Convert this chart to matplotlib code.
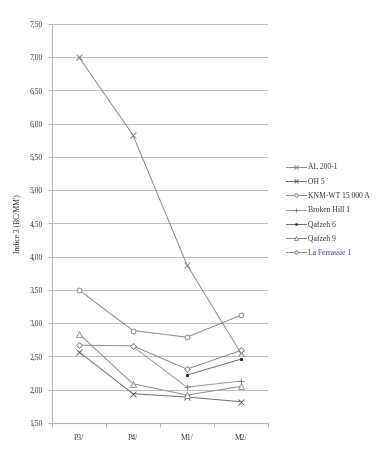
import numpy as np
from matplotlib import pyplot as plt
from matplotlib.ticker import FuncFormatter

plt.rcParams['font.family'] = ['Liberation Serif', 'DejaVu Serif']

# Categories (teeth) and index values per specimen
teeth = ["P3/", "P4/", "M1/", "M2/"]
al_200 = [7.00, 5.83, 3.88, 2.55]
oh_5 = [2.57, 1.94, 1.89, 1.82]
knm_wt = [3.50, 2.89, 2.79, 3.12]
broken_hill = [np.nan, 2.65, 2.04, 2.13]
qafzeh_6 = [np.nan, np.nan, 2.22, 2.46]
qafzeh_9 = [2.84, 2.09, 1.92, 2.05]
la_ferrassie = [2.67, 2.66, 2.31, 2.59]

names = ["AL 200-1", "OH 5", "KNM-WT 15 000 A", "Broken Hill 1",
         "Qafzeh 6", "Qafzeh 9", "La Ferrassie 1"]
series = [al_200, oh_5, knm_wt, broken_hill, qafzeh_6, qafzeh_9, la_ferrassie]

styles = [
    dict(color='#8a8a8a', marker='x', ms=5, mfc='none', mec='#7a7a7a'),
    dict(color='#6e6e6e', marker='x', ms=5, mfc='none', mec='#555555'),
    dict(color='#8a8a8a', marker='o', ms=3.5, mfc='white', mec='#777777'),
    dict(color='#9a9a9a', marker='+', ms=5, mfc='none', mec='#777777'),
    dict(color='#6e6e6e', marker='s', ms=1.5, mfc='#222222', mec='#222222'),
    dict(color='#8a8a8a', marker='^', ms=4, mfc='white', mec='#888888'),
    dict(color='#8a8a8a', marker='D', ms=3, mfc='white', mec='#777777'),
]

fig = plt.figure(figsize=(3.9, 4.5), dpi=100)
ax = fig.add_axes([0.133, 0.06, 0.554, 0.887])

x = np.arange(len(teeth))
lines = []
for vals, name, st in zip(series, names, styles):
    y = np.array(vals, dtype=float)
    m = ~np.isnan(y)
    ln, = ax.plot(x[m], y[m], lw=0.7, mew=0.6, label=name, **st)
    lines.append(ln)

ax.set_xlim(-0.5, len(teeth) - 0.5)
ax.set_ylim(1.5, 7.5)
ax.set_yticks(np.arange(1.5, 7.51, 0.5))
ax.yaxis.set_major_formatter(FuncFormatter(lambda v, p: f"{v:.2f}".replace('.', ',')))
ax.set_xticks(x)
ax.set_xticklabels(teeth)
ax.set_xticks(np.arange(-0.5, len(teeth), 1.0), minor=True)
ax.tick_params(axis='x', which='major', length=0, pad=8, labelsize=5.5, colors='#333333')
ax.tick_params(axis='x', which='minor', length=3, color='#aaaaaa', width=0.6)
ax.tick_params(axis='y', length=3, color='#aaaaaa', width=0.6, labelsize=5.5,
               colors='#aaaaaa', labelcolor='#333333')

ax.grid(axis='y', color='#bdbdbd', lw=0.7)
ax.set_axisbelow(True)
for s in ['top', 'right']:
    ax.spines[s].set_visible(False)
for s in ['left', 'bottom']:
    ax.spines[s].set_color('#b5b5b5')
    ax.spines[s].set_linewidth(0.8)

ax.set_ylabel("Indice 3 (BC/MM')", fontsize=5.5, color='#222222', labelpad=6)

leg = fig.legend(handles=lines, loc='upper left', bbox_to_anchor=(0.715, 0.652),
                 frameon=False, fontsize=5.5, handlelength=2.6, labelspacing=0.82,
                 handletextpad=0.3, markerscale=0.7)
for t in leg.get_texts():
    t.set_color('#333333')
leg.get_texts()[-1].set_color('#3a3a9a')

plt.savefig("out.png", dpi=100)
